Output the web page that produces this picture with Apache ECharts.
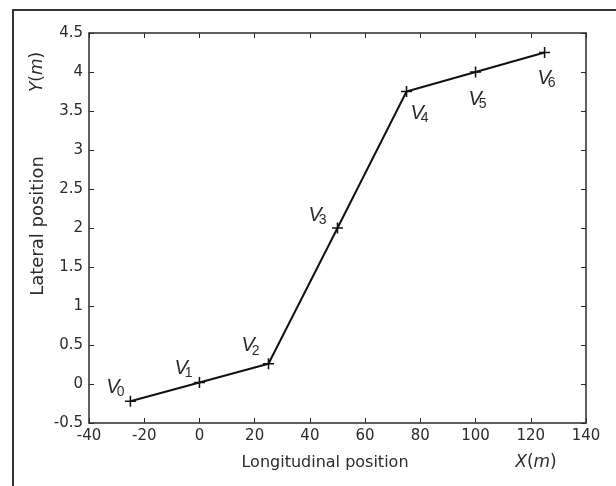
<!DOCTYPE html>
<html>
<head>
<meta charset="utf-8">
<script src="https://cdn.jsdelivr.net/npm/echarts@6/dist/echarts.min.js"></script>
<style>
  html, body { margin: 0; padding: 0; background: #fff; }
  #chart { width: 616px; height: 486px; }
</style>
</head>
<body>
<div id="chart"></div>
<script>
// vertex positions of the lane-change path
const xPos = [-25, 0, 25, 50, 75, 100, 125]
const yPos = [-0.22, 0.02, 0.26, 2, 3.75, 4, 4.25]
const vertexNames = ['0', '1', '2', '3', '4', '5', '6']

// axis text
const xAxisTitle = 'Longitudinal position'
const xUnit = '{i|X}({i|m})'
const yAxisTitle = 'Lateral position'
const yUnit = '{i|Y}({i|m})'

const ink = '#2b2b2b'
const font = 'DejaVu Sans'
const labelFont = 'Liberation Sans'

// where each V label sits relative to its point
const labelShift = [[-15, -16], [-16, -16], [-18, -20], [-20, -15], [13, 20], [2, 25], [2, 24]]

const chart = echarts.init(document.getElementById('chart'))

const cross = 'path://M0,4.3H10V5.7H0Z M4.3,0H5.7V10H4.3Z'

const points = xPos.map((x, i) => ({
  value: [x, yPos[i]],
  label: {
    show: true,
    position: 'inside',
    offset: labelShift[i],
    formatter: '{v|V}{s|' + vertexNames[i] + '}'
  }
}))

const axisBase = {
  axisLine: { show: true, onZero: false, lineStyle: { color: ink, width: 1.5 } },
  axisTick: { show: true, inside: true, length: 5, lineStyle: { color: ink, width: 1 } },
  splitLine: { show: false }
}

const unitRich = { i: { fontFamily: font, fontStyle: 'italic', fontSize: 17, fill: ink } }

chart.setOption({
  backgroundColor: '#fff',
  animation: false,
  grid: { left: 89, top: 33, right: 30, bottom: 63 },
  xAxis: [
    Object.assign({
      type: 'value', min: -40, max: 140, interval: 20, position: 'bottom',
      axisLabel: { color: ink, fontFamily: font, fontSize: 15, margin: 6 }
    }, axisBase),
    Object.assign({
      type: 'value', min: -40, max: 140, interval: 20, position: 'top',
      axisLabel: { show: false }
    }, axisBase)
  ],
  yAxis: [
    Object.assign({
      type: 'value', min: -0.5, max: 4.5, interval: 0.5, position: 'left',
      axisLabel: { color: ink, fontFamily: font, fontSize: 15, margin: 6 }
    }, axisBase),
    Object.assign({
      type: 'value', min: -0.5, max: 4.5, interval: 0.5, position: 'right',
      axisLabel: { show: false }
    }, axisBase)
  ],
  series: [{
    type: 'line',
    data: points,
    symbol: cross,
    symbolSize: 11,
    showAllSymbol: true,
    itemStyle: { color: '#111' },
    lineStyle: { color: '#111', width: 2 },
    label: {
      rich: {
        v: { fontFamily: labelFont, fontStyle: 'italic', fontSize: 20, color: ink, lineHeight: 24, verticalAlign: 'bottom' },
        s: { fontFamily: labelFont, fontSize: 14, color: ink, lineHeight: 24, verticalAlign: 'bottom', padding: [0, 0, -2, -3] }
      }
    }
  }],
  graphic: [
    {
      type: 'polyline',
      shape: { points: [[13, 486], [13, 10], [616, 10]] },
      style: { stroke: '#333', lineWidth: 2, fill: null }
    },
    {
      type: 'text', x: 38, y: 72, rotation: Math.PI / 2,
      style: {
        text: yUnit, rich: unitRich, fontFamily: font, fontSize: 17, fill: ink,
        align: 'center', verticalAlign: 'middle'
      }
    },
    {
      type: 'text', x: 38, y: 226, rotation: Math.PI / 2,
      style: {
        text: yAxisTitle, fontFamily: font, fontSize: 18, fill: ink,
        align: 'center', verticalAlign: 'middle'
      }
    },
    {
      type: 'text', x: 325, y: 463,
      style: {
        text: xAxisTitle, fontFamily: font, fontSize: 16, fill: ink,
        align: 'center', verticalAlign: 'middle'
      }
    },
    {
      type: 'text', x: 536, y: 463,
      style: {
        text: xUnit, rich: unitRich, fontFamily: font, fontSize: 17, fill: ink,
        align: 'center', verticalAlign: 'middle'
      }
    }
  ]
})
</script>
</body>
</html>
